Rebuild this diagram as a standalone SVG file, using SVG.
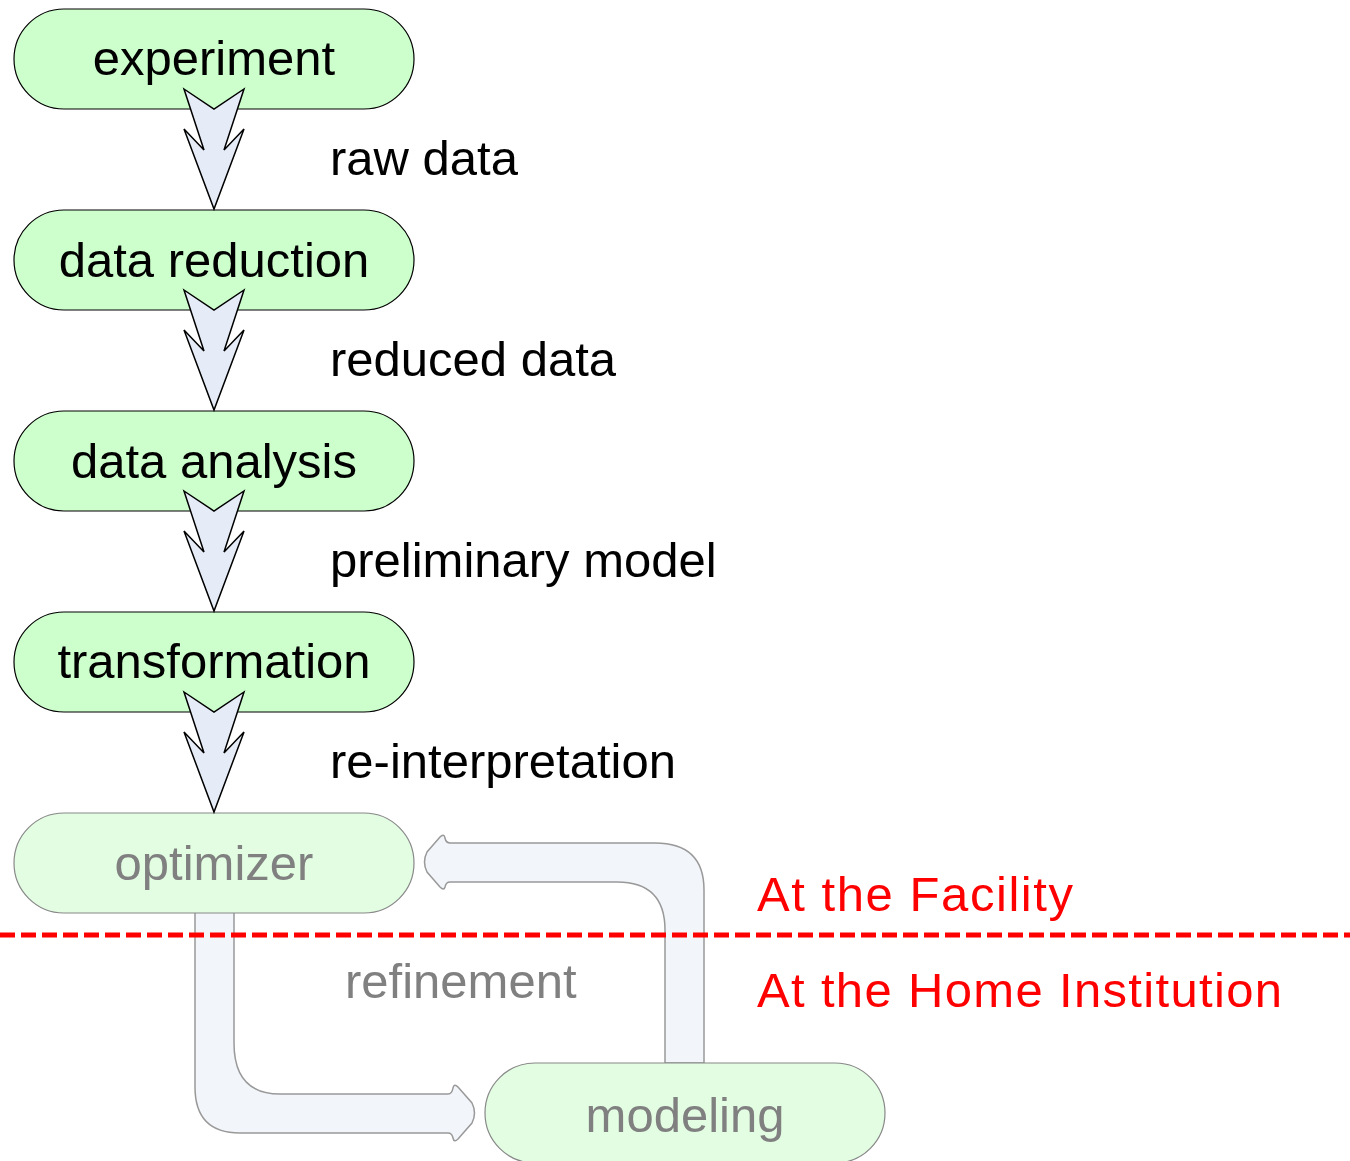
<svg xmlns="http://www.w3.org/2000/svg" width="1350" height="1161" viewBox="0 0 1350 1161">
  <style>
    .node rect { fill: #ccffcc; stroke: #000; stroke-width: 1.2; }
    .node text { font-family: "Liberation Sans", Arial, sans-serif; font-size: 49px; fill: #000; text-anchor: middle; }
    .faded rect { fill: #e2fde2; stroke: #888; stroke-width: 1.2; }
    .faded text { fill: #808080; }
    .label { font-family: "Liberation Sans", Arial, sans-serif; font-size: 49px; fill: #000; }
    .grey { fill: #808080; }
    .zone { font-family: "Liberation Sans", Arial, sans-serif; font-size: 49px; fill: #ff0000; }
    .flow { fill: #e6ecf7; stroke: #000; stroke-width: 1.5; stroke-linejoin: miter; }
    .loop { fill: #f2f5fa; stroke: #999; stroke-width: 1.5; }
  </style>
  <defs>
    <polygon id="chevron" points="184,89 214,109 244,89 224,150 244,129 214,209 184,129 204,150"/>
  </defs>

  <!-- feedback loop between optimizer and modeling -->
  <g id="loop">
    <path class="loop" d="M195,912 L234,912 L234,1043 Q234,1094 280,1094 L448,1094 Q452,1094 453,1088 Q454,1083 458,1087 L472,1103 Q477,1113 472,1123 L458,1139 Q454,1143 453,1138 Q452,1133 448,1133 L240,1133 Q195,1133 195,1087 Z"/>
    <path class="loop" d="M665,1063 L704,1063 L704,890 Q704,843 655,843 L450,843 Q446,843 445,838 Q444,833 440,837 L427,852 Q422,862 427,872 L440,887 Q444,891 445,887 Q446,882 450,882 L617,882 Q665,882 665,930 Z"/>
  </g>

  <g id="experiment" class="node">
    <rect x="14" y="9" width="400" height="100" rx="50"/>
    <text x="214" y="75">experiment</text>
  </g>
  <g id="data-reduction" class="node">
    <rect x="14" y="210" width="400" height="100" rx="50"/>
    <text x="214" y="277">data reduction</text>
  </g>
  <g id="data-analysis" class="node">
    <rect x="14" y="411" width="400" height="100" rx="50"/>
    <text x="214" y="478">data analysis</text>
  </g>
  <g id="transformation" class="node">
    <rect x="14" y="612" width="400" height="100" rx="50"/>
    <text x="214" y="678">transformation</text>
  </g>
  <g id="optimizer" class="node faded">
    <rect x="14" y="813" width="400" height="100" rx="50"/>
    <text x="214" y="880">optimizer</text>
  </g>
  <g id="modeling" class="node faded">
    <rect x="485" y="1063" width="400" height="100" rx="50"/>
    <text x="685" y="1132">modeling</text>
  </g>

  <!-- downward flow arrows -->
  <g id="connectors">
    <use href="#chevron" class="flow"/>
    <use href="#chevron" class="flow" y="201"/>
    <use href="#chevron" class="flow" y="402"/>
    <use href="#chevron" class="flow" y="603"/>
  </g>

  <g id="labels">
    <text class="label" x="330" y="175">raw data</text>
    <text class="label" x="330" y="376">reduced data</text>
    <text class="label" x="330" y="577">preliminary model</text>
    <text class="label" x="330" y="778">re-interpretation</text>
    <text class="label grey" x="345" y="998">refinement</text>
  </g>

  <!-- facility / home institution divide -->
  <g id="divide">
    <line x1="0" y1="935" x2="1350" y2="935" stroke="#ff0000" stroke-width="5" stroke-dasharray="15 6"/>
    <text class="zone" x="757" y="911" textLength="316" lengthAdjust="spacing">At the Facility</text>
    <text class="zone" x="757" y="1007" textLength="525" lengthAdjust="spacing">At the Home Institution</text>
  </g>
</svg>
